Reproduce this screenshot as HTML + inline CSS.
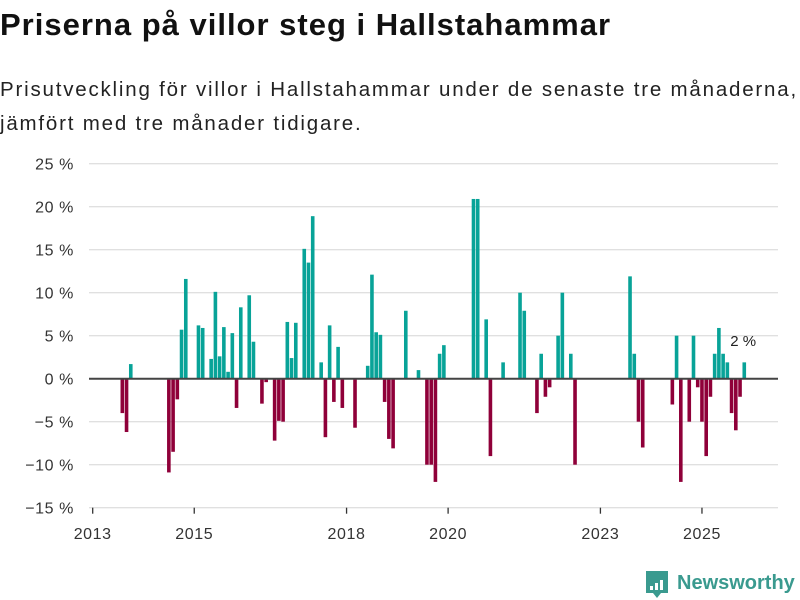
<!DOCTYPE html>
<html><head><meta charset="utf-8">
<style>
body{margin:0;background:#fff;font-family:"Liberation Sans","DejaVu Sans",sans-serif;}
#wrap{position:relative;width:800px;height:600px;overflow:hidden;}
h1{position:absolute;left:0;top:7px;margin:0;font-size:31px;font-weight:bold;color:#111;letter-spacing:1.0px;white-space:nowrap;}
p.sub{position:absolute;left:0;top:73px;margin:0;font-size:20.5px;line-height:34px;color:#222;width:820px;letter-spacing:1.8px;white-space:nowrap;}
</style></head><body>
<div id="wrap">
<h1>Priserna på villor steg i Hallstahammar</h1>
<p class="sub">Prisutveckling för villor i Hallstahammar under de senaste tre månaderna,<br>jämfört med tre månader tidigare.</p>
<svg id="chart" width="800" height="600" style="position:absolute;left:0;top:0"></svg>
</div>
<script>
// month index from Jan 2013
const monthIdx = [7,8,9,18,19,20,21,22,25,26,28,29,30,31,32,33,34,35,37,38,40,41,43,44,45,46,47,48,50,51,52,54,55,56,57,58,59,62,65,66,67,68,69,70,71,74,77,79,80,81,82,83,90,91,93,94,97,101,102,105,106,107,108,110,111,113,114,127,128,129,130,137,138,139,141,142,143,144,145,146,147,148,149,150,151,152,153,154];
const values = [-4.0,-6.2,1.7,-10.9,-8.5,-2.4,5.7,11.6,6.2,5.9,2.3,10.1,2.6,6.0,0.8,5.3,-3.4,8.3,9.7,4.3,-2.9,-0.4,-7.2,-4.9,-5.0,6.6,2.4,6.5,15.1,13.5,18.9,1.9,-6.8,6.2,-2.7,3.7,-3.4,-5.7,1.5,12.1,5.4,5.1,-2.7,-7.0,-8.1,7.9,1.0,-10,-10,-12,2.9,3.9,20.9,20.9,6.9,-9.0,1.9,10.0,7.9,-4.0,2.9,-2.1,-1.0,5.0,10.0,2.9,-10,11.9,2.9,-5.0,-8.0,-3.0,5.0,-12,-5,5,-1.0,-5,-9,-2.1,2.9,5.9,2.9,1.9,-4.0,-6.0,-2.1,1.9];
const yTicks = [25,20,15,10,5,0,-5,-10,-15];
const yTickLabels = ["25 %","20 %","15 %","10 %","5 %","0 %","−5 %","−10 %","−15 %"];
const xTickYears = [2013,2015,2018,2020,2023,2025];
const lastLabel = "2 %";

const NS="http://www.w3.org/2000/svg";
const svg=document.getElementById('chart');
function y(v){return 378.7 - v*8.6;}
function x(i){return 92.7 + i*4.231;}
function el(t,a){const e=document.createElementNS(NS,t);for(const k in a)e.setAttribute(k,a[k]);svg.appendChild(e);return e;}

yTicks.forEach((t,k)=>{
  if(t!==0 && t!==-15){
    const g=el('line',{x1:89,x2:778,y1:y(t),y2:y(t),stroke:'#e0e0e0','stroke-width':1.3});
    
    
  }
  const tx=el('text',{x:74,y:y(t)+6,'text-anchor':'end','font-size':16,fill:'#333','letter-spacing':0.6});
  tx.textContent=yTickLabels[k];
  
  
});
const ax=el('line',{x1:89,x2:778,y1:y(-15),y2:y(-15),stroke:'#e0e0e0','stroke-width':1.3});


xTickYears.forEach(yr=>{
  const xi=x((yr-2013)*12);
  const tk=el('line',{x1:xi,x2:xi,y1:y(-15),y2:y(-15)+6,stroke:'#333','stroke-width':1.3});
  
  
  const tx=el('text',{x:xi,y:539,'text-anchor':'middle','font-size':16,fill:'#333','letter-spacing':0.6});
  tx.textContent=yr;
  
  
});
values.forEach((v,k)=>{
  const xi=x(monthIdx[k]);
  const y0=y(Math.max(v,0)), h=Math.abs(y(v)-y(0));
  const r=el('rect',{x:xi-1.8,y:y0,width:3.6,height:h,fill:v>=0?'#08a398':'#8f0039'});
  
  
});
const zl=el('line',{x1:89,x2:778,y1:y(0),y2:y(0),stroke:'#444','stroke-width':2});


const lbl=el('text',{x:x(monthIdx[monthIdx.length-1])-14,y:346,'font-size':15,fill:'#222'});
lbl.textContent=lastLabel;


// logo
const lg=el('g',{});


const ic=document.createElementNS(NS,'path');
ic.setAttribute('d','M646 571 h22 v22 h-7 l-4 5 l-4 -5 h-7 z');
ic.setAttribute('fill','#3a9a8f');
lg.appendChild(ic);
[[650,586,3,4],[655,583,3,7],[660,580,3,10]].forEach(b=>{const r=document.createElementNS(NS,'rect');r.setAttribute('x',b[0]);r.setAttribute('y',b[1]);r.setAttribute('width',b[2]);r.setAttribute('height',b[3]);r.setAttribute('fill','#fff');lg.appendChild(r);});
const lt=document.createElementNS(NS,'text');
lt.setAttribute('x',677);lt.setAttribute('y',589);lt.setAttribute('font-size',20);lt.setAttribute('font-weight','bold');lt.setAttribute('fill','#3a9a8f');
lt.textContent='Newsworthy';
lg.appendChild(lt);
</script>
</body></html>
